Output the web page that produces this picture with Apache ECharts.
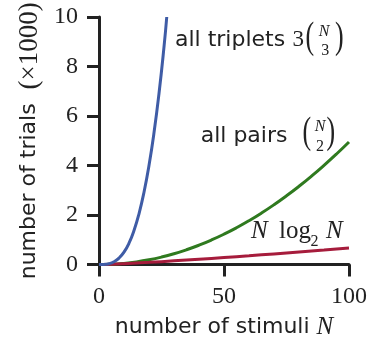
<!DOCTYPE html>
<html>
<head>
<meta charset="utf-8">
<script src="https://cdn.jsdelivr.net/npm/echarts@6/dist/echarts.min.js"></script>
<style>
  html, body { margin: 0; padding: 0; background: #fff; }
  #chart { width: 382px; height: 345px; }
</style>
</head>
<body>
<div id="chart"></div>
<script>
// Number of stimuli N and number of trials (in thousands) for three designs.
const stimuliTriplets = [0, 2, 4, 6, 8, 10, 12, 14, 16, 18, 20, 22, 24, 26, 27.1];
const trialsTriplets  = [0, 0.004, 0.03, 0.11, 0.26, 0.5, 0.86, 1.37, 2.05, 2.92, 4.0, 5.32, 6.91, 8.79, 10.0];

const stimuliPairs = [0, 5, 10, 15, 20, 25, 30, 35, 40, 45, 50, 55, 60, 65, 70, 75, 80, 85, 90, 95, 100];
const trialsPairs  = [0, 0.01, 0.045, 0.105, 0.19, 0.3, 0.435, 0.595, 0.78, 0.99, 1.225, 1.485, 1.77, 2.08, 2.415, 2.775, 3.16, 3.57, 4.005, 4.465, 4.95];

const stimuliNlogN = [0, 5, 10, 20, 30, 40, 50, 60, 70, 80, 90, 100];
const trialsNlogN  = [0, 0.012, 0.033, 0.086, 0.147, 0.213, 0.282, 0.354, 0.429, 0.506, 0.584, 0.664];

const xTickValues = [0, 50, 100];
const yTickValues = [0, 2, 4, 6, 8, 10];

const INK = '#222222';
const SANS = '"DejaVu Sans"';
const SERIF = '"Liberation Serif"';

const zip = (xs, ys) => xs.map((x, i) => [x, ys[i]]);

const chart = echarts.init(document.getElementById('chart'), null, { renderer: 'canvas' });

function axisCommon() {
  return {
    axisLine: { show: true, lineStyle: { color: INK, width: 3 } },
    axisTick: { show: true, inside: false, length: 12, lineStyle: { color: INK, width: 3 } },
    splitLine: { show: false },
    axisLabel: { color: INK, fontFamily: SERIF, fontSize: 24 }
  };
}

const xAxis = Object.assign(axisCommon(), {
  type: 'value',
  min: xTickValues[0],
  max: xTickValues[xTickValues.length - 1],
  interval: xTickValues[1] - xTickValues[0],
  name: 'number of stimuli {n|N}',
  nameLocation: 'middle',
  nameGap: 51,
  nameTextStyle: {
    color: INK, fontFamily: SANS, fontSize: 22, lineHeight: 24,
    rich: { n: { fontFamily: SERIF, fontStyle: 'italic', fontSize: 25, color: INK, lineHeight: 24 } }
  }
});
xAxis.axisLabel.margin = 20;

const yAxis = Object.assign(axisCommon(), {
  type: 'value',
  min: yTickValues[0],
  max: yTickValues[yTickValues.length - 1],
  interval: yTickValues[1] - yTickValues[0],
  name: 'number of trials  {s|(×1000)}',
  nameLocation: 'middle',
  nameGap: 56,
  nameTextStyle: {
    color: INK, fontFamily: SANS, fontSize: 22, lineHeight: 24,
    rich: { s: { fontFamily: SERIF, fontSize: 27, color: INK, lineHeight: 24 } }
  }
});
yAxis.axisLabel.margin = 21;

function line(data, color) {
  return {
    type: 'line',
    data: data,
    smooth: true,
    showSymbol: false,
    clip: true,
    lineStyle: { color: color, width: 3 },
    itemStyle: { color: color },
    animation: false
  };
}

// Small text pieces for the curve annotations (math set in serif).
function txt(x, y, text, font, align, extra) {
  return Object.assign({
    type: 'text', x: x, y: y, silent: true,
    style: { text: text, font: font, fill: INK, align: align || 'left', verticalAlign: 'middle' }
  }, extra || {});
}

const parenFont = '37px ' + SERIF;
const smallItalic = 'italic 16px ' + SERIF;
const small = '16px ' + SERIF;

const annotations = [
  // all triplets 3 (N choose 3)
  txt(175, 40, 'all triplets', '22px ' + SANS),
  txt(292.5, 40, '3', '23px ' + SERIF),
  txt(305.5, 38, '(', parenFont, 'left', { scaleX: 0.7 }),
  txt(324, 31.5, 'N', smallItalic, 'center'),
  txt(325.3, 50.5, '3', small, 'center'),
  txt(335, 38, ')', parenFont, 'left', { scaleX: 0.7 }),
  // all pairs (N choose 2)
  txt(200.7, 136, 'all pairs', '22px ' + SANS),
  txt(302.5, 133, '(', parenFont, 'left', { scaleX: 0.7 }),
  txt(320, 127, 'N', smallItalic, 'center'),
  txt(320, 146.5, '2', small, 'center'),
  txt(326.5, 133, ')', parenFont, 'left', { scaleX: 0.7 }),
  // N log2 N
  txt(251, 231.5, 'N', 'italic 25px ' + SERIF),
  txt(279, 231.5, 'log', '25px ' + SERIF),
  txt(310.5, 241.5, '2', small),
  txt(326, 231.5, 'N', 'italic 25px ' + SERIF)
];

chart.setOption({
  animation: false,
  backgroundColor: '#ffffff',
  grid: { left: 99, right: 33, top: 17, bottom: 77 },
  xAxis: xAxis,
  yAxis: yAxis,
  series: [
    line(zip(stimuliPairs, trialsPairs), '#2f7a1f'),
    line(zip(stimuliNlogN, trialsNlogN), '#a61c3c'),
    line(zip(stimuliTriplets, trialsTriplets), '#3f5ca6')
  ],
  graphic: annotations
});
</script>
</body>
</html>
